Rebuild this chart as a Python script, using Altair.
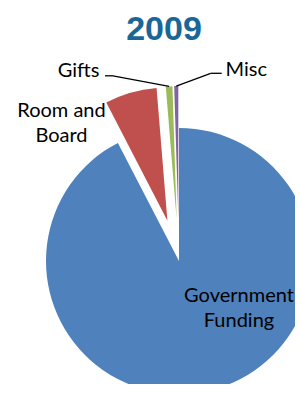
import altair as alt
import pandas as pd

# ---- data ----
title_text = "2009"
categories = ["Government Funding", "Room and Board", "Gifts", "Misc"]
shares = [92.4, 6.3, 0.8, 0.5]
colors = ["#4F81BD", "#C0504D", "#9BBB59", "#8064A2"]

df = pd.DataFrame({"category": categories, "share": shares,
                   "idx": list(range(len(categories)))})

# ---- layout (pixels) ----
CX, CY, R, EXPLODE = 171, 213, 133, 42
label_pos = {  # label anchor offsets from pie center
    "Government Funding": (60, 41),
    "Room and Board": (-117.5, -144),
    "Gifts": (-100.5, -183.7),
    "Misc": (67.3, -185),
}
leader = {  # (text-side x offset, elbow x offset, y offset) from label anchor
    "Gifts": (26.5, 34.5, -1.5),
    "Misc": (-24.6, -35.6, -2.7),
}


def pick(mapping, k, default="0"):
    expr = default
    for key, v in mapping.items():
        expr = f"(datum.category == '{key}' ? {v[k]} : {expr})"
    return expr


base = (
    alt.Chart(df)
    .transform_joinaggregate(total="sum(share)")
    .transform_window(cum="sum(share)", sort=[alt.SortField("idx", order="ascending")],
                      frame=[None, 0])
    .transform_calculate(
        t0="2*PI*(datum.cum - datum.share)/datum.total",
        t1="2*PI*datum.cum/datum.total",
    )
    .transform_calculate(
        mid="(datum.t0 + datum.t1)/2",
        ex=f"datum.category == '{categories[0]}' ? 0 : {EXPLODE}",
    )
    .transform_calculate(
        sx=f"{CX} + datum.ex*sin(datum.mid)",
        sy=f"{CY} - datum.ex*cos(datum.mid)",
    )
    .transform_calculate(
        ox=f"datum.sx + {R}*sin(datum.mid)",
        oy=f"datum.sy - {R}*cos(datum.mid)",
        lx=f"{CX} + {pick(label_pos, 0)}",
        ly=f"{CY} + {pick(label_pos, 1)}",
    )
)

arcs = base.mark_arc(outerRadius=R).encode(
    theta=alt.Theta("t0:Q", scale=None),
    theta2="t1:Q",
    x=alt.X("sx:Q", scale=None, axis=None),
    y=alt.Y("sy:Q", scale=None, axis=None),
    color=alt.Color("category:N", scale=alt.Scale(domain=categories, range=colors),
                    legend=None),
)

labels = base.transform_calculate(
    label=r"replace(datum.category, regexp(' (?=\\S+$)'), '\n')"
).mark_text(font="Lato", fontSize=20, lineHeight=25, align="center",
            baseline="alphabetic", lineBreak="\n", color="black").encode(
    x=alt.X("lx:Q", scale=None, axis=None),
    y=alt.Y("ly:Q", scale=None, axis=None),
    text="label:N",
)

lead = base.transform_filter(
    alt.FieldOneOfPredicate(field="category", oneOf=list(leader.keys()))
).transform_calculate(
    ax=f"datum.lx + {pick(leader, 0)}",
    bx=f"datum.lx + {pick(leader, 1)}",
    ay=f"datum.ly + {pick(leader, 2)}",
)

rule1 = lead.mark_rule(color="black", strokeWidth=1.3).encode(
    x=alt.X("ax:Q", scale=None, axis=None), x2="bx:Q",
    y=alt.Y("ay:Q", scale=None, axis=None), y2="ay:Q",
)
rule2 = lead.mark_rule(color="black", strokeWidth=1.3).encode(
    x=alt.X("bx:Q", scale=None, axis=None), x2="ox:Q",
    y=alt.Y("ay:Q", scale=None, axis=None), y2="oy:Q",
)

title = alt.Chart(pd.DataFrame({"t": [title_text]})).mark_text(
    font="Liberation Sans", fontSize=34,
    fontWeight="bold", color="#1A6699", align="center", baseline="alphabetic",
).encode(text="t:N", x=alt.value(156), y=alt.value(-8.5))

chart = (
    alt.layer(arcs, rule1, rule2, labels, title)
    .properties(
        width=287, height=336,
        padding={"left": 0, "top": 40, "right": 0, "bottom": 0},
        autosize=alt.AutoSizeParams(type="none"),
    )
    .configure_view(stroke=None)
)

chart.save("out.html", embed_options={"renderer": "svg", "actions": False})
